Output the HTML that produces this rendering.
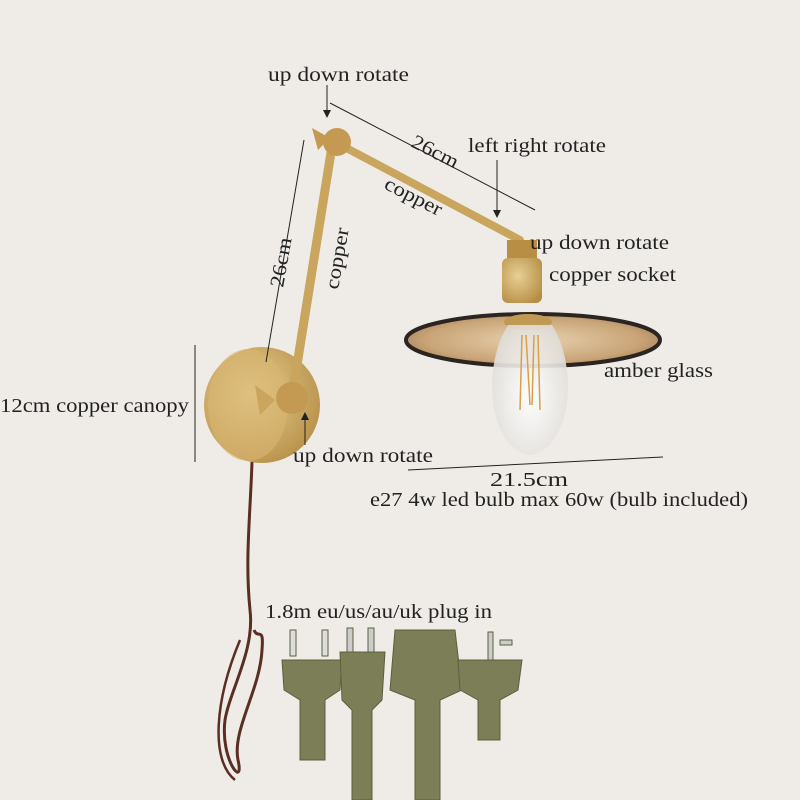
<!DOCTYPE html>
<html><head><meta charset="utf-8"><style>
html,body{margin:0;padding:0;background:#efece7;}
svg{display:block}
text{font-family:"Liberation Serif",serif;fill:#222;font-size:20px}
</style></head><body>
<svg width="800" height="800" viewBox="0 0 800 800" xmlns="http://www.w3.org/2000/svg">
<defs>
<radialGradient id="gold" cx="40%" cy="40%" r="70%"><stop offset="0" stop-color="#e8cf94"/><stop offset="1" stop-color="#b58e45"/></radialGradient>
<radialGradient id="amber" cx="50%" cy="50%" r="60%"><stop offset="0" stop-color="#e8d3b0"/><stop offset="0.7" stop-color="#c9a477"/><stop offset="1" stop-color="#9a7a55"/></radialGradient>
<radialGradient id="bulb" cx="50%" cy="55%" r="60%"><stop offset="0" stop-color="#ffffff"/><stop offset="1" stop-color="#dedbd6"/></radialGradient>
</defs>
<rect width="800" height="800" fill="#efece7"/>

<path d="M252 462 C250 520 245 560 250 610 C255 650 230 690 225 720 C220 760 245 790 238 760 C232 730 260 690 262 650 C264 625 258 640 254 630" fill="none" stroke="#5a2e22" stroke-width="3"/>
<path d="M240 640 C215 700 210 760 235 780" fill="none" stroke="#5a2e22" stroke-width="2.5"/>

<circle cx="262" cy="405" r="58" fill="url(#gold)"/>
<ellipse cx="248" cy="405" rx="40" ry="56" fill="#d8b572" opacity="0.6"/>
<line x1="293" y1="390" x2="333" y2="140" stroke="#c9a55e" stroke-width="9" stroke-linecap="round"/>
<circle cx="292" cy="398" r="16" fill="#c49a52"/>
<path d="M255 385 L275 400 L260 415 Z" fill="#c9a55e"/>
<line x1="335" y1="142" x2="520" y2="240" stroke="#c9a55e" stroke-width="8" stroke-linecap="round"/>
<circle cx="337" cy="142" r="14" fill="#c49a52"/>
<path d="M312 128 L330 138 L318 150 Z" fill="#c49a52"/>
<rect x="507" y="240" width="30" height="18" fill="#b88e45"/>
<rect x="502" y="258" width="40" height="45" rx="6" fill="url(#gold)"/>
<ellipse cx="533" cy="340" rx="127" ry="26" fill="url(#amber)" stroke="#2c2420" stroke-width="4"/>
<ellipse cx="528" cy="322" rx="24" ry="8" fill="#c09a55"/>
<path d="M508 325 C480 370 490 450 530 455 C570 450 580 370 552 325" fill="url(#bulb)" opacity="0.9"/>
<path d="M522 335 L520 410 M538 335 L540 410 M526 335 L530 405 M534 335 L532 405" stroke="#d6a04c" stroke-width="1.5"/>

<g fill="#7b7e56" stroke="#5c5f3e" stroke-width="1">
<rect x="290" y="630" width="6" height="26" fill="#ddd"/><rect x="322" y="630" width="6" height="26" fill="#ddd"/>
<path d="M282 660 L342 660 L340 690 L325 700 L325 760 L300 760 L300 700 L284 690 Z"/>
<rect x="347" y="628" width="6" height="26" fill="#ccc"/><rect x="368" y="628" width="6" height="26" fill="#ccc"/>
<path d="M340 652 L385 652 L382 700 L372 710 L372 800 L352 800 L352 710 L342 700 Z"/>
<path d="M395 630 L455 630 L462 690 L440 700 L440 800 L415 800 L415 700 L390 690 Z"/>
<rect x="488" y="632" width="5" height="28" fill="#ccc"/><rect x="500" y="640" width="12" height="5" fill="#ccc"/>
<path d="M458 660 L522 660 L518 690 L500 700 L500 740 L478 740 L478 700 L460 690 Z"/>
</g>

<g stroke="#222" stroke-width="1" fill="none">
<line x1="327" y1="85" x2="327" y2="112"/>
<line x1="330" y1="103" x2="535" y2="210"/>
<line x1="497" y1="160" x2="497" y2="212"/>
<line x1="304" y1="140" x2="266" y2="362"/>
<line x1="195" y1="345" x2="195" y2="462"/>
<line x1="305" y1="445" x2="305" y2="418"/>
<line x1="408" y1="470" x2="663" y2="457"/>
</g>
<g fill="#222">
<path d="M323 110 L327 118 L331 110 Z"/>
<path d="M493 210 L497 218 L501 210 Z"/>
<path d="M301 420 L305 412 L309 420 Z"/>
</g>

<text x="268" y="81" textLength="141" lengthAdjust="spacingAndGlyphs">up down rotate</text>
<text x="468" y="152" textLength="138" lengthAdjust="spacingAndGlyphs">left right rotate</text>
<text x="530" y="249" textLength="139" lengthAdjust="spacingAndGlyphs">up down rotate</text>
<text x="549" y="281" textLength="127" lengthAdjust="spacingAndGlyphs">copper socket</text>
<text x="604" y="377" textLength="109" lengthAdjust="spacingAndGlyphs">amber glass</text>
<text x="0" y="412" textLength="189" lengthAdjust="spacingAndGlyphs">12cm copper canopy</text>
<text x="293" y="462" textLength="140" lengthAdjust="spacingAndGlyphs">up down rotate</text>
<text x="490" y="486" textLength="78" lengthAdjust="spacingAndGlyphs">21.5cm</text>
<text x="370" y="506" textLength="378" lengthAdjust="spacingAndGlyphs">e27 4w led bulb max 60w  (bulb included)</text>
<text x="265" y="618" textLength="227" lengthAdjust="spacingAndGlyphs">1.8m eu/us/au/uk plug in</text>
<text transform="translate(410,146) rotate(27)" textLength="50" lengthAdjust="spacingAndGlyphs">26cm</text>
<text transform="translate(383,188) rotate(27)" textLength="62" lengthAdjust="spacingAndGlyphs">copper</text>
<text transform="translate(283,288) rotate(-80)" textLength="50" lengthAdjust="spacingAndGlyphs">26cm</text>
<text transform="translate(338,290) rotate(-80)" textLength="62" lengthAdjust="spacingAndGlyphs">copper</text>
</svg>
</body></html>
